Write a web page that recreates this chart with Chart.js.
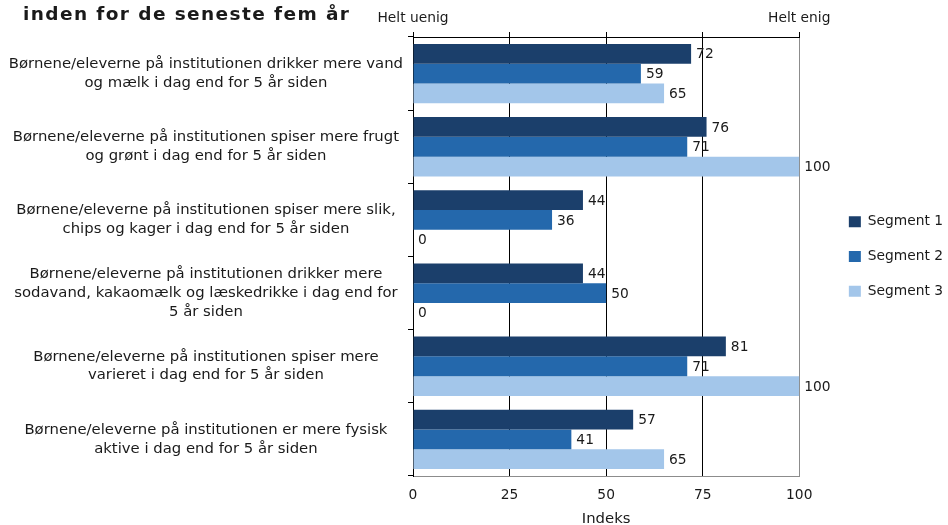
<!DOCTYPE html>
<html>
<head>
<meta charset="utf-8">
<script src="https://cdn.jsdelivr.net/npm/chart.js@4"></script>
<style>
  html, body { margin: 0; padding: 0; background: #fff; }
  #wrap { width: 948px; height: 525px; }
</style>
</head>
<body>
<div id="wrap"><canvas id="barchart"></canvas></div>
<script>
var categories = [
  ["Børnene/eleverne på institutionen drikker mere vand", "og mælk i dag end for 5 år siden"],
  ["Børnene/eleverne på institutionen spiser mere frugt", "og grønt i dag end for 5 år siden"],
  ["Børnene/eleverne på institutionen spiser mere slik,", "chips og kager i dag end for 5 år siden"],
  ["Børnene/eleverne på institutionen drikker mere", "sodavand, kakaomælk og læskedrikke i dag end for", "5 år siden"],
  ["Børnene/eleverne på institutionen spiser mere", "varieret i dag end for 5 år siden"],
  ["Børnene/eleverne på institutionen er mere fysisk", "aktive i dag end for 5 år siden"]
];
var segment1 = [72, 76, 44, 44, 81, 57];
var segment2 = [59, 71, 36, 50, 71, 41];
var segment3 = [65, 100, 0, 0, 100, 65];
var seriesNames = ["Segment 1", "Segment 2", "Segment 3"];
var xTicks = [0, 25, 50, 75, 100];
var titleText = "inden for de seneste fem år";
var leftEnd = "Helt uenig";
var rightEnd = "Helt enig";
var axisTitle = "Indeks";

var FONT = "'DejaVu Sans', Verdana, sans-serif";
var TXT = "#1a1a1a";
var SMALL = 13.8;
var LABEL = 14.85;

// value labels at the end of each bar
var valueLabels = {
  id: 'valueLabels',
  afterDatasetsDraw: function(chart) {
    var c = chart.ctx;
    c.save();
    c.font = SMALL + "px " + FONT;
    c.fillStyle = TXT;
    c.textAlign = 'left';
    c.textBaseline = 'middle';
    chart.data.datasets.forEach(function(ds, i) {
      chart.getDatasetMeta(i).data.forEach(function(bar, j) {
        c.fillText(String(ds.data[j]), bar.x + 5, bar.y + 1);
      });
    });
    c.restore();
  }
};

// title and the two scale-end captions
var headTexts = {
  id: 'headTexts',
  afterDraw: function(chart) {
    var c = chart.ctx, x = chart.scales.x;
    c.save();
    c.fillStyle = TXT;
    c.textBaseline = 'alphabetic';
    c.font = "bold 18.5px " + FONT;
    c.textAlign = 'left';
    c.letterSpacing = '1.4px';
    c.fillText(titleText, 23, 19.5);
    c.letterSpacing = '0px';
    c.font = SMALL + "px " + FONT;
    c.textAlign = 'center';
    c.fillText(leftEnd, x.getPixelForValue(xTicks[0]), 21.5);
    c.fillText(rightEnd, x.getPixelForValue(xTicks[xTicks.length - 1]), 21.5);
    c.restore();
  }
};

var ctx = document.getElementById('barchart');
var myChart = new Chart(ctx, {
  type: 'bar',
  data: {
    labels: categories,
    datasets: [
      { label: seriesNames[0], data: segment1, backgroundColor: "#1b3f6b" },
      { label: seriesNames[1], data: segment2, backgroundColor: "#2468ac" },
      { label: seriesNames[2], data: segment3, backgroundColor: "#a3c6ea" }
    ]
  },
  plugins: [valueLabels, headTexts],
  options: {
    indexAxis: 'y',
    responsive: true,
    maintainAspectRatio: false,
    animation: false,
    categoryPercentage: 0.81,
    barPercentage: 1.0,
    layout: { padding: { top: 32, left: 0, right: -5, bottom: 0 } },
    scales: {
      x: {
        type: 'linear',
        position: 'bottom',
        min: 0,
        max: 100,
        afterBuildTicks: function(s) { s.ticks = xTicks.map(function(v) { return { value: v }; }); },
        grid: {
          drawTicks: false,
          color: function(c) {
            if (c.tick.value === 0) return 'rgba(0,0,0,0)';
            if (c.tick.value === 100) return '#8c8c8c';
            return '#000';
          }
        },
        border: { color: '#8c8c8c' },
        ticks: { padding: 11, color: TXT, font: { family: FONT, size: SMALL } },
        title: {
          display: true, text: axisTitle, color: TXT,
          font: { family: FONT, size: LABEL, lineHeight: 0.8 },
          padding: { top: 0, bottom: 0 }
        },
        afterFit: function(s) { s.height = 49; }
      },
      xTop: {
        type: 'linear',
        position: 'top',
        min: 0,
        max: 100,
        afterBuildTicks: function(s) { s.ticks = xTicks.map(function(v) { return { value: v }; }); },
        grid: { drawOnChartArea: false, tickLength: 5, color: '#000' },
        border: { color: '#000' },
        ticks: { display: false }
      },
      y: {
        position: 'left',
        grid: { drawOnChartArea: false, tickLength: 5, color: '#000', offset: true },
        border: { color: '#000' },
        ticks: {
          crossAlign: 'center',
          padding: 5,
          color: TXT,
          font: { family: FONT, size: LABEL, lineHeight: 1.26 }
        },
        afterFit: function(s) { s.width = 413; }
      },
      gap: {
        type: 'category',
        position: 'right',
        grid: { display: false },
        border: { display: false },
        ticks: { display: false },
        afterFit: function(s) { s.width = 28.6; }
      }
    },
    plugins: {
      legend: {
        position: 'right',
        fullSize: false,
        labels: {
          boxWidth: 12,
          boxHeight: 11,
          padding: 21,
          color: TXT,
          font: { family: FONT, size: SMALL }
        }
      },
      tooltip: { enabled: false }
    }
  }
});
</script>
</body>
</html>
